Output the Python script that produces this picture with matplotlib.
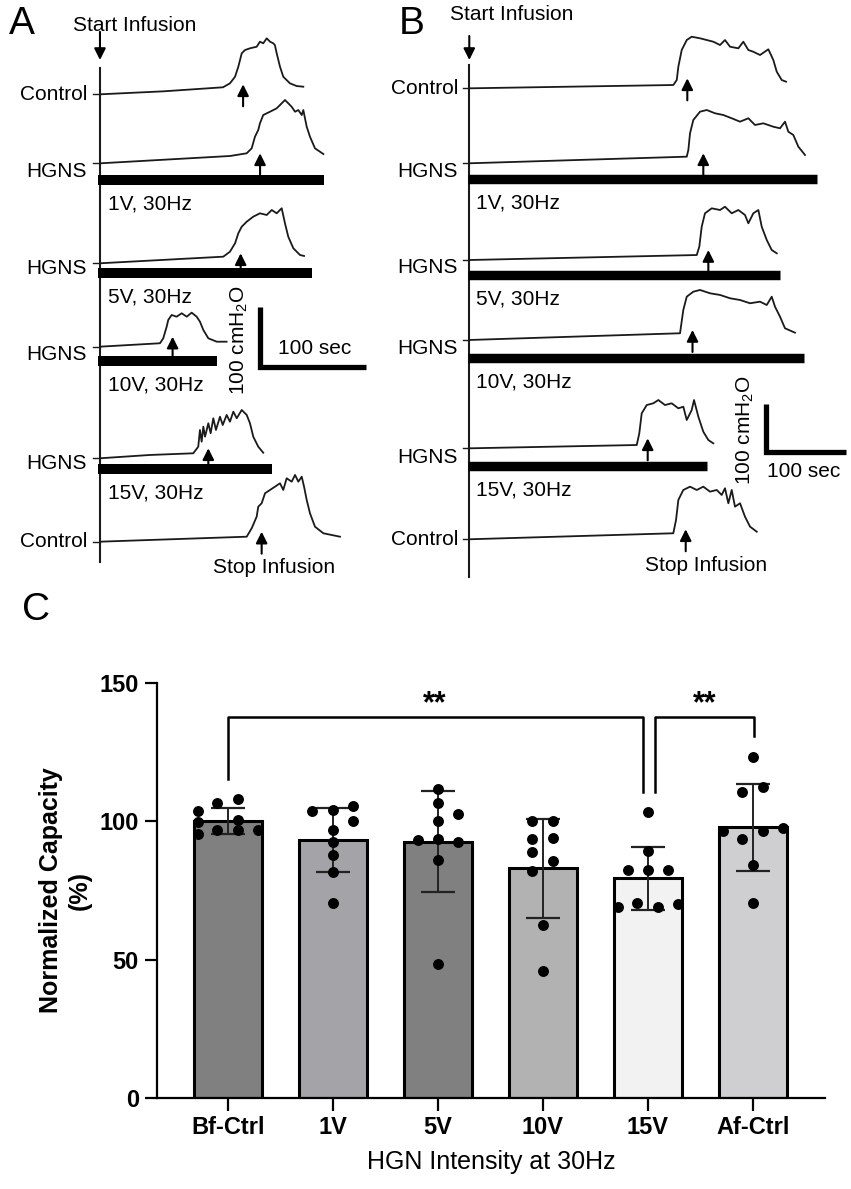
import numpy as np
import matplotlib
matplotlib.use('Agg')
import matplotlib.pyplot as plt

plt.rcParams['font.family'] = ['Liberation Sans', 'DejaVu Sans']

# ---------------- panel C data ----------------
groups = ['Bf-Ctrl', '1V', '5V', '10V', '15V', 'Af-Ctrl']
means = [100.1, 93.2, 92.6, 83.0, 79.4, 97.8]
sds = [4.6, 11.6, 18.3, 18.0, 11.5, 15.7]
bar_colors = ['#808080', '#a3a3a8', '#808080', '#b2b2b2', '#f2f2f2', '#cfcfd1']

pts_bf = [103.6, 106.6, 108.1, 99.6, 100.6, 95.5, 97.0, 96.7, 97.0]
dx_bf = [-0.29, -0.1, 0.1, -0.29, 0.1, -0.29, -0.1, 0.1, 0.29]
pts_1v = [103.6, 104.2, 105.7, 100.0, 97.0, 92.5, 88.0, 81.7, 70.5]
dx_1v = [-0.2, 0.0, 0.19, 0.19, 0.0, 0.0, 0.0, 0.0, 0.0]
pts_5v = [111.7, 106.6, 102.8, 100.0, 93.4, 93.7, 92.5, 86.1, 48.6]
dx_5v = [0.0, 0.0, 0.19, 0.0, -0.19, 0.0, 0.19, 0.0, 0.0]
pts_10v = [100.0, 100.0, 93.6, 94.0, 88.9, 85.5, 81.9, 62.4, 45.8]
dx_10v = [-0.1, 0.1, -0.1, 0.1, -0.1, 0.1, -0.1, 0.0, 0.0]
pts_15v = [103.4, 89.2, 82.3, 82.5, 82.3, 69.0, 70.5, 69.0, 70.2]
dx_15v = [0.0, 0.0, -0.19, 0.0, 0.19, -0.29, -0.1, 0.1, 0.29]
pts_af = [123.3, 110.6, 112.3, 96.6, 93.7, 96.4, 97.6, 84.3, 70.5]
dx_af = [0.0, -0.1, 0.1, -0.29, -0.1, 0.1, 0.29, 0.0, 0.0]

points = [pts_bf, pts_1v, pts_5v, pts_10v, pts_15v, pts_af]
jitter = [dx_bf, dx_1v, dx_5v, dx_10v, dx_15v, dx_af]

# significance brackets: (x_left, x_right, y_left_end, y_right_end, y_top, star_x)
brackets = [(0, 3.955, 115.2, 110.7, 137.6, 1.97),
            (4.067, 5.01, 110.7, 130.8, 137.6, 4.54)]

# ---------------- panel A / B traces (sec, cmH2O above own baseline) ----------------
a_t = [
    [0, 60, 116, 122.6, 127.4, 130.5, 133.7, 136.8, 141.5, 147.8, 150.9, 154, 157.3, 160.4, 163.5, 165, 166.7, 169.8, 172.9, 179.2, 185.5, 191.8],
    [0, 122.6, 138.4, 143.1, 146.2, 149.3, 150.9, 154, 160.4, 166.7, 171.4, 174.5, 177.6, 180.8, 184, 187.1, 190.3, 191.8, 195, 198.1, 202.8, 210.7],
    [0, 116.3, 122.6, 127.4, 130.5, 133.7, 138.4, 144.6, 150.9, 157.3, 162, 166.7, 171.4, 174.5, 177.6, 182.4, 188.7, 192.5],
    [0, 56.6, 59.7, 62.9, 64.4, 67.6, 72.3, 77.1, 81.8, 86.5, 91.2, 94.3, 97.5, 102.2, 110.1, 119.4],
    [0, 47, 88, 92.7, 94.3, 95.9, 97.5, 99.1, 102.2, 104.4, 106.9, 109.4, 113.2, 115.8, 119.5, 122.6, 125.8, 129, 133.7, 138.4, 141.5, 144.6, 149.3, 154],
    [0, 138.4, 143.1, 147.8, 149.3, 152.5, 155.7, 160.4, 165.1, 169.8, 172.9, 176.1, 180.8, 184, 187.1, 190.3, 192.5, 195, 198.1, 202.8, 210.7, 226.4],
]
a_p = [
    [0, 5, 11.7, 18.3, 29.3, 46, 68.3, 73.8, 76.7, 79.3, 87.7, 85, 93.3, 87.7, 85, 82, 68.3, 46, 29.3, 18.3, 13.8, 12.7],
    [0, 12.2, 16.7, 25, 44.3, 55.5, 66.7, 80.5, 86, 91.7, 100, 105.5, 100, 94.3, 86, 88.8, 80.5, 88.8, 61, 44.3, 25, 15.5],
    [0, 11, 19.3, 33.3, 50, 61, 69.3, 77.7, 83.3, 80.5, 88.8, 83.3, 91.7, 66.7, 44.3, 25, 13.8, 12.2],
    [0, 5.7, 14, 33.3, 44.5, 52.8, 50, 55.7, 50, 56.7, 50, 41.7, 27.8, 14, 8.3, 8.3],
    [0, 5.5, 8.3, 19.3, 47.2, 27.7, 52.7, 36, 58.3, 41.7, 66.7, 47.2, 69.3, 55.5, 72.2, 61, 77.7, 66.7, 80.5, 72.2, 58.3, 36, 19.3, 9.3],
    [0, 8.3, 22.3, 41.7, 58.3, 64, 80.7, 86.2, 91.7, 97.3, 86.2, 105.7, 100, 111.2, 100, 108.3, 91.7, 69.5, 47.3, 25, 14, 8.3],
]
b_t = [
    [0, 255, 259.3, 261.3, 265.5, 271.8, 278, 288.4, 296.8, 305, 313.4, 319.6, 325.9, 336.3, 342.5, 348.8, 355, 363.4, 373.8, 380, 384.3, 390.5, 395.9],
    [0, 271.8, 273.8, 275.9, 280, 288.4, 296.8, 307.1, 317.5, 328, 338.4, 348.8, 357.1, 367.5, 380, 388.4, 394.6, 398.8, 405, 411.3, 419.6],
    [0, 284.3, 287.5, 290.5, 294.6, 303, 313.4, 319.6, 328, 336.3, 344.6, 348.8, 355, 361.3, 365.5, 371.8, 378, 384.3],
    [0, 263.4, 267.5, 271.8, 280, 288.4, 300.9, 313.4, 325.9, 338.4, 350.9, 363.4, 371.8, 378, 382.1, 388.4, 394.6, 407.1],
    [0, 209.3, 212.5, 215.5, 221.8, 230, 236.3, 244.6, 253, 261.3, 267.5, 271.8, 278, 280.9, 286.3, 292.5, 298.8, 305],
    [0, 255, 258.4, 261.3, 267.5, 275.9, 284.3, 292.5, 300.9, 309.3, 315.5, 319.6, 323.8, 328, 332.1, 338.4, 344.6, 350.9, 359.3],
]
b_p = [
    [0, 6.9, 17.3, 45, 79.8, 100.6, 107.5, 104.2, 100.6, 97.1, 90.2, 100.6, 86.7, 83.3, 97.1, 79.8, 76.2, 69.4, 81.3, 59, 34.6, 17.3, 13.8],
    [0, 13.8, 27.7, 62.5, 90.2, 107.5, 111, 104.2, 100.6, 93.8, 86.7, 93.8, 79.8, 83.3, 76.2, 72.9, 86.7, 65.8, 59, 34.6, 17.3],
    [0, 10.4, 27.7, 69.4, 97.3, 107.7, 104.2, 111, 97.3, 104.2, 93.8, 76.5, 97.3, 104.2, 69.4, 41.7, 20.8, 14],
    [0, 14, 62.5, 90.2, 100.6, 104.2, 97.3, 93.8, 86.9, 83.3, 76.5, 79.8, 72.9, 90.2, 69.4, 48.5, 24.4, 15.2],
    [0, 6.9, 31.3, 72.9, 90.2, 93.8, 100.6, 90.2, 93.8, 83.3, 86.7, 59, 79.8, 100.6, 65.8, 34.6, 17.3, 10.4],
    [0, 12.5, 40.2, 81.9, 102.7, 109.6, 102.7, 109.6, 99.2, 102.7, 92.3, 106.3, 75, 102.7, 67.9, 75, 47.1, 26.3, 15.8],
]
a_void = [135, 151, 132.7, 68.5, 102.2, 152.5]
b_void = [272.5, 292.5, 298.8, 279, 223, 270.5]
a_stim_end = [211, 199.7, 110.7, 162]
b_stim_end = [434, 388.4, 418.4, 296.7]

trace_names = ['Control', 'HGNS', 'HGNS', 'HGNS', 'HGNS', 'Control']
stim_labels = ['1V, 30Hz', '5V, 30Hz', '10V, 30Hz', '15V, 30Hz']

# layout: vertical stacking of traces inside each panel (axis units)
a_base = [842.8, 727.8, 561.2, 422.2, 236.2, 97.2]
a_bar_y = [700, 545, 397.8, 217.8]
b_base = [1066, 909.8, 708.3, 541.7, 316, 126.5]
b_bar_y = [876.7, 677.7, 504.2, 278.5]

W, H = 851, 1189
fig = plt.figure(figsize=(W / 100, H / 100), dpi=100)

tfs = 15
lc = '#1a1a1a'
arrow_kw = dict(arrowstyle='-|>', color='black', lw=1.5, mutation_scale=17,
                shrinkA=0, shrinkB=0)


def trace_panel(ax, ts, ps, base, bar_y, bar_end, void, px_unit, axis_span,
                lab_x, start_y, start_txt, stop_x, bar_lw, scale):
    # px_unit: pixels per cmH2O, used to turn pixel offsets into axis units
    u = 1.0 / px_unit
    ax.plot([0, 0], axis_span, color=lc, lw=1.5)
    for i in range(6):
        t = np.array(ts[i])
        p = np.array(ps[i]) + base[i]
        ax.plot(t, p, color=lc, lw=1.3)
        ax.plot([-lab_x * 0.55, 0], [base[i], base[i]], color=lc, lw=1.0)
        # void arrow
        ax.annotate('', xy=(void[i], base[i] + 10 * u), xytext=(void[i], base[i] - 12 * u),
                    arrowprops=arrow_kw)
        if 1 <= i <= 4:
            j = i - 1
            ax.plot([-2, bar_end[j]], [bar_y[j], bar_y[j]], color='black', lw=bar_lw,
                    solid_capstyle='butt')
            ax.text(-lab_x, (base[i] + bar_y[j]) / 2, trace_names[i], ha='right', va='center',
                    fontsize=tfs)
            ax.text(lab_x * 0.6, bar_y[j] - 24 * u, stim_labels[j], ha='left', va='center',
                    fontsize=tfs)
        else:
            ax.text(-lab_x, base[i], trace_names[i], ha='right', va='center', fontsize=tfs)
    # start / stop infusion
    ax.annotate('', xy=(0, start_y[1]), xytext=(0, start_y[0]), arrowprops=arrow_kw)
    ax.text(start_txt[0], start_txt[1], 'Start Infusion', ha='center', va='center', fontsize=tfs)
    ax.text(stop_x, base[5] - 26 * u, 'Stop Infusion', ha='left', va='center', fontsize=tfs)
    # scale bar
    cx, cy, sx, sy, vx, vy = scale
    ax.plot([cx, cx, cx + 100], [cy + 100, cy, cy], color='black', lw=3.8,
            solid_joinstyle='miter', solid_capstyle='butt')
    ax.text(sx, sy, '100 sec', ha='center', va='center', fontsize=tfs)
    ax.text(vx, vy, r'100 cmH$_\mathregular{2}$O', ha='center', va='center',
            fontsize=tfs, rotation=90)


axA = fig.add_axes([0, 1 - 600 / H, 400 / W, 600 / H])
axA.set_xlim(-94.3, 283)
axA.set_ylim(0, 1000)
axA.axis('off')
trace_panel(axA, a_t, a_p, a_base, a_bar_y, a_stim_end, a_void, 0.6, (63.3, 886.7),
            12.3, (947, 900), (33, 958), 106.6, 7.2,
            (151, 388, 202, 420, 131, 433))

axB = fig.add_axes([400 / W, 1 - 600 / H, 451 / W, 600 / H])
axB.set_xlim(-86.6, 477.1)
axB.set_ylim(0, 1250)
axB.axis('off')
trace_panel(axB, b_t, b_p, b_base, b_bar_y, b_stim_end, b_void, 0.48, (48.5, 1114.6),
            14, (1175, 1125), (52.7, 1218.75), 219.6, 6.8,
            (370.3, 307.3, 418.4, 267.3, 344.6, 354.2))

fig.text(22 / W, 1 - 24 / H, 'A', fontsize=28, ha='center', va='center')
fig.text(412 / W, 1 - 24 / H, 'B', fontsize=28, ha='center', va='center')
fig.text(36 / W, 1 - 610 / H, 'C', fontsize=28, ha='center', va='center')

# ---------------- panel C ----------------
ax = fig.add_axes([157 / W, 91 / H, 668 / W, 415 / H])
x = np.arange(len(groups))
ax.bar(x, means, width=0.65, color=bar_colors, edgecolor='black', linewidth=2.2, zorder=2)
ax.errorbar(x, means, yerr=sds, fmt='none', ecolor='#222222', elinewidth=1.4,
            capsize=12, capthick=1.6, zorder=3)
for i in range(len(groups)):
    ax.scatter(x[i] + np.array(jitter[i]), points[i], s=62, color='black', zorder=4,
               linewidths=0)

for xl, xr, yl, yr, yt, sxp in brackets:
    ax.plot([xl, xl, xr, xr], [yl, yt, yt, yr], color='black', lw=1.8, clip_on=False)
    ax.text(sxp, 142.5, '**', ha='center', va='center', fontsize=22, fontweight='bold')

ax.set_xlim(-0.676, 5.686)
ax.set_ylim(0, 150)
ax.set_yticks([0, 50, 100, 150])
ax.set_xticks(x)
ax.set_xticklabels(groups)
for s in ['top', 'right']:
    ax.spines[s].set_visible(False)
for s in ['left', 'bottom']:
    ax.spines[s].set_linewidth(1.6)
ax.tick_params(width=1.6, length=9, labelsize=17, pad=4)
for lab in ax.get_xticklabels() + ax.get_yticklabels():
    lab.set_fontweight('bold')
ax.set_ylabel('Normalized Capacity\n(%)', fontsize=18, fontweight='bold', linespacing=1.3)
ax.yaxis.set_label_coords(-0.097, 0.5)
ax.set_xlabel('HGN Intensity at 30Hz', fontsize=18)
ax.xaxis.set_label_coords(0.5, -0.125)

fig.savefig('out.png', dpi=100)
